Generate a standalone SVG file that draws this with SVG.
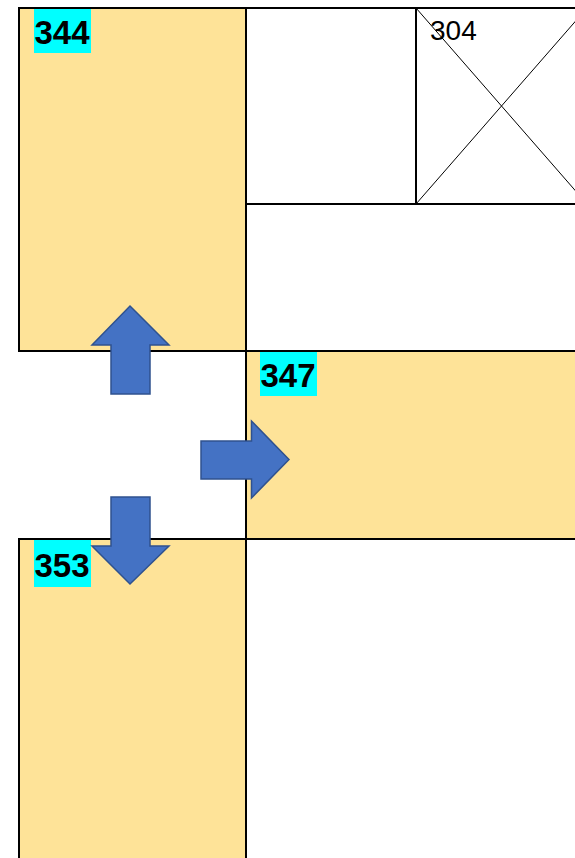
<svg xmlns="http://www.w3.org/2000/svg" width="575" height="858" viewBox="0 0 575 858">
<style>
.cell{fill:#FEE398;stroke:#000;stroke-width:2}
.blank{fill:#fff;stroke:#000;stroke-width:2}
.x{stroke:#000;stroke-width:1;fill:none}
.lab{fill:#00FFFF}
.bold{font-family:"Liberation Sans",Arial,sans-serif;font-weight:bold;font-size:33px;fill:#000}
.num{font-family:"Liberation Sans",Arial,sans-serif;font-size:28px;fill:#000}
.arrow{fill:#4472C4;stroke:#2F528F;stroke-width:1.5;stroke-linejoin:miter}
</style>
<rect x="0" y="0" width="575" height="858" fill="#fff"/>
<g id="cell-top-mid">
<rect class="blank" x="246" y="8" width="170" height="196"/>
</g>
<g id="cell-right-mid">
<rect class="blank" x="246" y="204" width="340" height="147"/>
</g>
<g id="node-304">
<rect class="blank" x="416" y="8" width="171" height="196"/>
<line class="x" x1="416" y1="8" x2="587" y2="204"/>
<line class="x" x1="416" y1="204" x2="587" y2="8"/>
<text class="num" x="430" y="40">304</text>
</g>
<g id="node-344">
<rect class="cell" x="19" y="8" width="227" height="343"/>
<rect class="lab" x="34" y="9" width="57" height="44"/>
<text class="bold" x="34.5" y="44">344</text>
</g>
<g id="node-347">
<rect class="cell" x="246" y="351" width="340" height="188"/>
<rect class="lab" x="260" y="352" width="57" height="44"/>
<text class="bold" x="260.5" y="387">347</text>
</g>
<g id="cell-bottom-right">
<rect class="blank" x="246" y="539" width="340" height="330"/>
</g>
<g id="node-353">
<rect class="cell" x="19" y="539" width="227" height="330"/>
<rect class="lab" x="34" y="540" width="57" height="47"/>
<text class="bold" x="34.5" y="577">353</text>
</g>
<g id="connectors">
<polygon class="arrow" points="130,306 169,345 150,345 150,394 111,394 111,345 92,345"/>
<polygon class="arrow" points="289,459.5 251.5,421 251.5,441 201,441 201,479 251.5,479 251.5,498"/>
<polygon class="arrow" points="130,584 169,546 150,546 150,497 111,497 111,546 92,546"/>
</g>
</svg>
